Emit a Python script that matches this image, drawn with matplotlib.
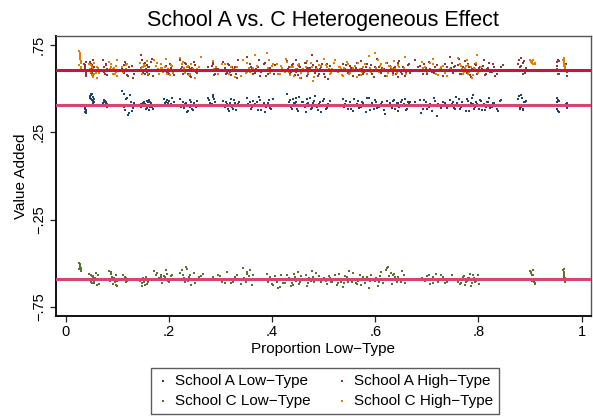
import matplotlib
matplotlib.use('Agg')
import matplotlib.pyplot as plt

plt.rcParams['font.family'] = ['Liberation Sans', 'DejaVu Sans']

# proportion low-type, school A observations
x_a = [0.036, 0.037, 0.038, 0.039, 0.040,
       0.047, 0.049, 0.051, 0.052, 0.054, 0.056,
       0.072, 0.075, 0.077, 0.079, 0.081,
       0.109, 0.113, 0.117, 0.121, 0.125, 0.129, 0.133,
       0.146, 0.149, 0.152, 0.155, 0.157, 0.159, 0.161, 0.163, 0.166, 0.169,
       0.190, 0.195, 0.200, 0.205, 0.210,
       0.222, 0.226, 0.230, 0.234, 0.238, 0.241, 0.244, 0.247, 0.250, 0.254,
       0.276, 0.280, 0.285, 0.290, 0.295,
       0.305, 0.309, 0.313, 0.317, 0.321, 0.325, 0.329, 0.333, 0.337,
       0.352, 0.357, 0.362, 0.367, 0.372, 0.377, 0.382, 0.387, 0.392, 0.397, 0.402, 0.406,
       0.429, 0.433, 0.437, 0.441, 0.445, 0.449, 0.453, 0.457, 0.461, 0.465, 0.469,
       0.473, 0.477, 0.481, 0.485, 0.489, 0.493, 0.497, 0.501, 0.505, 0.509, 0.512,
       0.537, 0.542, 0.547, 0.552, 0.557, 0.562, 0.567, 0.572, 0.577, 0.582, 0.587,
       0.592, 0.597, 0.602, 0.607, 0.612, 0.617, 0.623,
       0.629, 0.633, 0.637, 0.641, 0.645, 0.649, 0.653, 0.657, 0.661, 0.665, 0.668,
       0.677, 0.683, 0.689, 0.695, 0.701, 0.707, 0.713, 0.719, 0.725, 0.731, 0.739,
       0.745, 0.749, 0.753, 0.757, 0.761, 0.765, 0.769, 0.773, 0.777, 0.781, 0.785, 0.789, 0.793,
       0.797, 0.801, 0.805, 0.809, 0.813, 0.817, 0.821, 0.826, 0.831, 0.836, 0.841, 0.847,
       0.877, 0.880, 0.883, 0.886, 0.889, 0.892,
       0.952, 0.954, 0.955, 0.957, 0.970, 0.972,
       0.037, 0.038, 0.039, 0.040,
       0.048, 0.050, 0.053, 0.055, 0.050, 0.053,
       0.073, 0.076, 0.078, 0.080, 0.074,
       0.111, 0.115, 0.119, 0.123, 0.127, 0.131, 0.114,
       0.147, 0.150, 0.153, 0.156, 0.158, 0.160, 0.162, 0.164, 0.167, 0.154,
       0.192, 0.197, 0.202, 0.207, 0.199,
       0.224, 0.228, 0.232, 0.236, 0.239, 0.242, 0.245, 0.248, 0.252, 0.235,
       0.278, 0.283, 0.288, 0.292, 0.286,
       0.307, 0.311, 0.315, 0.319, 0.323, 0.327, 0.331, 0.335, 0.318,
       0.354, 0.359, 0.364, 0.369, 0.374, 0.379, 0.384, 0.389, 0.394, 0.399, 0.404, 0.371,
       0.431, 0.435, 0.439, 0.443, 0.447, 0.451, 0.455, 0.459, 0.463, 0.467, 0.471,
       0.475, 0.479, 0.483, 0.487, 0.491, 0.495, 0.499, 0.503, 0.507, 0.446, 0.468,
       0.539, 0.544, 0.549, 0.554, 0.559, 0.564, 0.569, 0.574, 0.579, 0.584, 0.589,
       0.594, 0.599, 0.604, 0.609, 0.614, 0.619, 0.566,
       0.631, 0.635, 0.639, 0.643, 0.647, 0.651, 0.655, 0.659, 0.663, 0.666, 0.644,
       0.680, 0.686, 0.692, 0.698, 0.704, 0.710, 0.716, 0.722, 0.728, 0.735, 0.700,
       0.747, 0.751, 0.755, 0.759, 0.763, 0.767, 0.771, 0.775, 0.779, 0.783, 0.787, 0.791, 0.795,
       0.799, 0.803, 0.807, 0.811, 0.815, 0.819, 0.823, 0.828, 0.833, 0.838, 0.844, 0.790,
       0.878, 0.881, 0.884, 0.887, 0.890, 0.882,
       0.953, 0.953, 0.956, 0.956, 0.971, 0.971]

# value added, school A low-type
y_a_low = [0.405, 0.392, 0.380, 0.370, 0.362,
           0.455, 0.440, 0.468, 0.432, 0.450, 0.425,
           0.418, 0.432, 0.402, 0.425, 0.410,
           0.485, 0.395, 0.440, 0.350, 0.462, 0.372, 0.418,
           0.412, 0.398, 0.425, 0.405, 0.388, 0.420, 0.432, 0.395, 0.415, 0.380,
           0.442, 0.420, 0.430, 0.412, 0.425,
           0.438, 0.402, 0.388, 0.415, 0.372, 0.395, 0.420, 0.378, 0.405, 0.430,
           0.445, 0.418, 0.460, 0.425, 0.405,
           0.430, 0.395, 0.410, 0.372, 0.440, 0.385, 0.415, 0.398, 0.422,
           0.445, 0.425, 0.392, 0.410, 0.378, 0.432, 0.400, 0.365, 0.418, 0.388, 0.440, 0.405,
           0.470, 0.422, 0.395, 0.438, 0.410, 0.380, 0.452, 0.402, 0.425, 0.368, 0.415,
           0.445, 0.390, 0.430, 0.405, 0.375, 0.420, 0.398, 0.440, 0.385, 0.412, 0.428,
           0.440, 0.410, 0.385, 0.425, 0.372, 0.402, 0.430, 0.392, 0.418, 0.365, 0.445,
           0.400, 0.380, 0.422, 0.395, 0.412, 0.375, 0.428,
           0.415, 0.390, 0.432, 0.405, 0.372, 0.420, 0.398, 0.440, 0.382, 0.410, 0.425,
           0.420, 0.398, 0.360, 0.432, 0.385, 0.412, 0.445, 0.340, 0.402, 0.425, 0.390,
           0.435, 0.412, 0.390, 0.450, 0.405, 0.380, 0.425, 0.398, 0.440, 0.372, 0.418, 0.460, 0.395,
           0.410, 0.385, 0.430, 0.402, 0.375, 0.420, 0.445, 0.392, 0.415, 0.382, 0.428, 0.400,
           0.440, 0.385, 0.460, 0.378, 0.420, 0.430,
           0.420, 0.372, 0.432, 0.400, 0.410, 0.390,
           0.388, 0.365, 0.398, 0.375,
           0.445, 0.462, 0.428, 0.438, 0.470, 0.418,
           0.405, 0.428, 0.415, 0.396, 0.420,
           0.402, 0.378, 0.448, 0.360, 0.425, 0.388, 0.470,
           0.395, 0.418, 0.402, 0.382, 0.428, 0.408, 0.375, 0.422, 0.392, 0.412,
           0.418, 0.436, 0.408, 0.445, 0.415,
           0.392, 0.425, 0.410, 0.365, 0.400, 0.432, 0.385, 0.418, 0.395, 0.408,
           0.432, 0.410, 0.440, 0.398, 0.452,
           0.405, 0.425, 0.385, 0.418, 0.395, 0.435, 0.378, 0.412, 0.402,
           0.412, 0.385, 0.428, 0.398, 0.450, 0.375, 0.418, 0.395, 0.435, 0.382, 0.408, 0.422,
           0.398, 0.432, 0.385, 0.415, 0.448, 0.372, 0.408, 0.425, 0.392, 0.438, 0.402,
           0.380, 0.418, 0.455, 0.395, 0.412, 0.365, 0.428, 0.405, 0.390, 0.420, 0.412,
           0.395, 0.428, 0.405, 0.380, 0.438, 0.412, 0.390, 0.425, 0.402, 0.448, 0.378,
           0.415, 0.432, 0.388, 0.408, 0.420, 0.355, 0.398,
           0.402, 0.428, 0.385, 0.418, 0.395, 0.435, 0.410, 0.378, 0.422, 0.400, 0.415,
           0.408, 0.435, 0.380, 0.420, 0.395, 0.372, 0.428, 0.410, 0.388, 0.415, 0.400,
           0.402, 0.425, 0.380, 0.415, 0.438, 0.392, 0.408, 0.372, 0.428, 0.398, 0.445, 0.385, 0.420,
           0.405, 0.432, 0.378, 0.412, 0.395, 0.425, 0.388, 0.418, 0.402, 0.370, 0.435, 0.410,
           0.455, 0.395, 0.448, 0.382, 0.425, 0.392,
           0.445, 0.382, 0.428, 0.365, 0.415, 0.398]

# value added, school A high-type
y_a_high = [0.640, 0.625, 0.600, 0.585, 0.570,
            0.650, 0.612, 0.595, 0.632, 0.580, 0.605,
            0.660, 0.620, 0.598, 0.640, 0.575,
            0.615, 0.590, 0.640, 0.570, 0.605, 0.628, 0.585,
            0.690, 0.662, 0.640, 0.610, 0.595, 0.625, 0.580, 0.605, 0.650, 0.570,
            0.600, 0.630, 0.585, 0.615, 0.575,
            0.662, 0.625, 0.598, 0.640, 0.580, 0.612, 0.565, 0.605, 0.635, 0.590,
            0.620, 0.600, 0.640, 0.585, 0.610,
            0.650, 0.615, 0.590, 0.632, 0.575, 0.605, 0.622, 0.560, 0.598,
            0.680, 0.640, 0.612, 0.590, 0.625, 0.570, 0.605, 0.648, 0.585, 0.618, 0.600, 0.632,
            0.655, 0.620, 0.595, 0.640, 0.575, 0.610, 0.630, 0.560, 0.602, 0.645, 0.585,
            0.618, 0.690, 0.598, 0.625, 0.570, 0.612, 0.638, 0.580, 0.605, 0.552, 0.628,
            0.642, 0.610, 0.590, 0.628, 0.570, 0.615, 0.600, 0.655, 0.582, 0.620, 0.598,
            0.635, 0.565, 0.608, 0.625, 0.588, 0.612, 0.645,
            0.630, 0.600, 0.615, 0.580, 0.645, 0.595, 0.620, 0.572, 0.608, 0.638, 0.590,
            0.660, 0.625, 0.598, 0.640, 0.580, 0.612, 0.590, 0.632, 0.605, 0.570, 0.620,
            0.680, 0.645, 0.620, 0.598, 0.632, 0.580, 0.610, 0.655, 0.590, 0.625, 0.568, 0.605, 0.640,
            0.585, 0.615, 0.600, 0.630, 0.575, 0.612, 0.648, 0.592, 0.622, 0.582, 0.608, 0.635,
            0.640, 0.598, 0.672, 0.585, 0.655, 0.615,
            0.650, 0.585, 0.665, 0.598, 0.640, 0.570,
            0.610, 0.632, 0.592, 0.650,
            0.598, 0.640, 0.572, 0.620, 0.588, 0.660,
            0.608, 0.585, 0.632, 0.612, 0.595,
            0.598, 0.650, 0.578, 0.620, 0.600, 0.562, 0.635,
            0.615, 0.588, 0.645, 0.600, 0.632, 0.575, 0.620, 0.598, 0.668, 0.585,
            0.622, 0.595, 0.640, 0.605, 0.588,
            0.610, 0.585, 0.645, 0.598, 0.625, 0.570, 0.618, 0.652, 0.592, 0.605,
            0.598, 0.628, 0.575, 0.615, 0.650,
            0.608, 0.580, 0.640, 0.595, 0.625, 0.612, 0.585, 0.660, 0.600,
            0.598, 0.625, 0.580, 0.612, 0.660, 0.592, 0.638, 0.572, 0.615, 0.602, 0.585, 0.628,
            0.612, 0.588, 0.635, 0.600, 0.662, 0.578, 0.620, 0.598, 0.645, 0.572, 0.615,
            0.605, 0.632, 0.590, 0.655, 0.582, 0.622, 0.608, 0.565, 0.640, 0.595, 0.618,
            0.605, 0.632, 0.585, 0.618, 0.598, 0.648, 0.575, 0.612, 0.592, 0.638, 0.602,
            0.580, 0.625, 0.668, 0.595, 0.615, 0.572, 0.608,
            0.612, 0.588, 0.625, 0.602, 0.655, 0.580, 0.618, 0.595, 0.635, 0.605, 0.565,
            0.602, 0.630, 0.585, 0.615, 0.650, 0.595, 0.622, 0.575, 0.610, 0.640, 0.598,
            0.615, 0.590, 0.628, 0.605, 0.668, 0.582, 0.620, 0.598, 0.642, 0.575, 0.612, 0.600, 0.635,
            0.588, 0.625, 0.610, 0.660, 0.580, 0.618, 0.595, 0.638, 0.572, 0.608, 0.622, 0.602,
            0.660, 0.625, 0.605, 0.645, 0.590, 0.630,
            0.628, 0.612, 0.580, 0.655, 0.608, 0.592]

# proportion low-type, school C observations
x_c = [0.027, 0.028, 0.028, 0.029, 0.029, 0.030,
       0.045, 0.048, 0.050, 0.052, 0.055, 0.058, 0.060, 0.062, 0.065,
       0.085, 0.088, 0.090, 0.092, 0.095, 0.098, 0.100,
       0.110, 0.115, 0.120,
       0.145, 0.148, 0.151, 0.154, 0.157, 0.160,
       0.172, 0.176, 0.180, 0.184, 0.188, 0.192, 0.196, 0.200, 0.204, 0.208,
       0.222, 0.226, 0.230, 0.234, 0.238, 0.242, 0.246, 0.250, 0.258, 0.266,
       0.285, 0.292, 0.300, 0.308, 0.316, 0.324, 0.332, 0.340, 0.346, 0.352, 0.358, 0.364, 0.370,
       0.390, 0.395, 0.400, 0.405, 0.410, 0.415, 0.420, 0.425, 0.430, 0.435, 0.440,
       0.445, 0.450, 0.455, 0.460, 0.465, 0.470, 0.475, 0.480, 0.485, 0.490, 0.495,
       0.500, 0.505, 0.510, 0.515, 0.520, 0.525, 0.530, 0.535, 0.540, 0.545,
       0.550, 0.555, 0.560, 0.565, 0.570, 0.575, 0.580, 0.585, 0.590, 0.595,
       0.600, 0.605, 0.610, 0.615, 0.620, 0.625, 0.630, 0.635, 0.640, 0.645, 0.650, 0.655, 0.660,
       0.690, 0.697, 0.704, 0.711, 0.718, 0.725, 0.732, 0.740, 0.748,
       0.760, 0.764, 0.768, 0.772, 0.776, 0.780, 0.784, 0.788, 0.792, 0.796, 0.800, 0.805,
       0.900, 0.902, 0.905, 0.908, 0.910,
       0.964, 0.965, 0.966, 0.966, 0.967, 0.968,
       0.028, 0.028, 0.029, 0.027, 0.030,
       0.046, 0.049, 0.051, 0.053, 0.056, 0.059, 0.061, 0.063, 0.054,
       0.086, 0.089, 0.091, 0.094, 0.097, 0.099, 0.087,
       0.112, 0.117, 0.118,
       0.146, 0.149, 0.152, 0.155, 0.158, 0.150,
       0.174, 0.178, 0.182, 0.186, 0.190, 0.194, 0.198, 0.202, 0.206, 0.185,
       0.224, 0.228, 0.232, 0.236, 0.240, 0.244, 0.248, 0.254, 0.262, 0.231,
       0.288, 0.296, 0.304, 0.312, 0.320, 0.328, 0.336, 0.343, 0.349, 0.355, 0.361, 0.367, 0.352,
       0.392, 0.397, 0.402, 0.407, 0.412, 0.417, 0.422, 0.427, 0.432, 0.437, 0.442,
       0.447, 0.452, 0.457, 0.462, 0.467, 0.472, 0.477, 0.482, 0.487, 0.492, 0.438,
       0.502, 0.507, 0.512, 0.517, 0.522, 0.527, 0.532, 0.537, 0.542, 0.547,
       0.552, 0.557, 0.562, 0.567, 0.572, 0.577, 0.582, 0.587, 0.592, 0.533,
       0.602, 0.607, 0.612, 0.617, 0.622, 0.627, 0.632, 0.637, 0.642, 0.647, 0.652, 0.657, 0.638,
       0.693, 0.700, 0.707, 0.714, 0.721, 0.728, 0.736, 0.744, 0.712,
       0.762, 0.766, 0.770, 0.774, 0.778, 0.782, 0.786, 0.790, 0.794, 0.798, 0.802, 0.779,
       0.901, 0.903, 0.906, 0.909, 0.904,
       0.965, 0.965, 0.966, 0.967, 0.967, 0.966]

# value added, school C low-type
y_c_low = [-0.500, -0.510, -0.520, -0.528, -0.536, -0.545,
           -0.560, -0.590, -0.605, -0.575, -0.612, -0.585, -0.598, -0.570, -0.620,
           -0.545, -0.560, -0.578, -0.595, -0.610, -0.625, -0.600,
           -0.590, -0.578, -0.600,
           -0.600, -0.615, -0.585, -0.625, -0.595, -0.610,
           -0.545, -0.570, -0.590, -0.565, -0.598, -0.580, -0.560, -0.605, -0.575, -0.588,
           -0.555, -0.540, -0.585, -0.520, -0.600, -0.570, -0.595, -0.615, -0.580, -0.560,
           -0.580, -0.598, -0.575, -0.612, -0.590, -0.605, -0.570, -0.620, -0.585, -0.550, -0.540, -0.565, -0.595,
           -0.560, -0.595, -0.620, -0.575, -0.605, -0.635, -0.588, -0.612, -0.570, -0.598, -0.625,
           -0.580, -0.550, -0.608, -0.590, -0.565, -0.615, -0.600, -0.578, -0.555, -0.592, -0.610,
           -0.585, -0.600, -0.572, -0.610, -0.590, -0.625, -0.560, -0.598, -0.615, -0.578,
           -0.545, -0.605, -0.588, -0.620, -0.568, -0.595, -0.612, -0.580, -0.602, -0.592,
           -0.600, -0.630, -0.575, -0.612, -0.540, -0.520, -0.555, -0.565, -0.590, -0.580, -0.605, -0.570, -0.595,
           -0.585, -0.600, -0.570, -0.612, -0.560, -0.595, -0.580, -0.605, -0.565,
           -0.605, -0.620, -0.590, -0.575, -0.610, -0.598, -0.560, -0.615, -0.585, -0.600, -0.570, -0.590,
           -0.545, -0.558, -0.570, -0.610, -0.620,
           -0.540, -0.552, -0.565, -0.578, -0.590, -0.605,
           -0.505, -0.515, -0.525, -0.533, -0.541,
           -0.598, -0.565, -0.615, -0.580, -0.605, -0.558, -0.625, -0.590, -0.572,
           -0.602, -0.552, -0.618, -0.585, -0.570, -0.630, -0.592,
           -0.568, -0.605, -0.585,
           -0.590, -0.628, -0.605, -0.580, -0.618, -0.598,
           -0.598, -0.558, -0.585, -0.612, -0.572, -0.538, -0.602, -0.590, -0.565, -0.580,
           -0.592, -0.565, -0.610, -0.535, -0.580, -0.625, -0.555, -0.598, -0.572, -0.605,
           -0.592, -0.565, -0.605, -0.548, -0.615, -0.580, -0.598, -0.530, -0.610, -0.572, -0.625, -0.588, -0.560,
           -0.605, -0.578, -0.625, -0.590, -0.642, -0.568, -0.612, -0.598, -0.582, -0.630, -0.560,
           -0.602, -0.618, -0.575, -0.595, -0.628, -0.585, -0.545, -0.608, -0.592, -0.572, -0.615,
           -0.598, -0.620, -0.582, -0.605, -0.565, -0.612, -0.592, -0.635, -0.575, -0.608,
           -0.588, -0.555, -0.615, -0.600, -0.625, -0.580, -0.595, -0.642, -0.570, -0.610,
           -0.585, -0.610, -0.548, -0.598, -0.530, -0.572, -0.620, -0.560, -0.605, -0.590, -0.545, -0.612, -0.578,
           -0.598, -0.575, -0.618, -0.588, -0.605, -0.568, -0.612, -0.592, -0.578,
           -0.592, -0.615, -0.578, -0.625, -0.600, -0.585, -0.630, -0.570, -0.608, -0.595, -0.618, -0.582,
           -0.552, -0.600, -0.540, -0.615, -0.565,
           -0.548, -0.560, -0.572, -0.585, -0.598, -0.535]

# value added, school C high-type
y_c_high = [0.712, 0.690, 0.668, 0.645, 0.620, 0.598,
            0.640, 0.612, 0.595, 0.625, 0.580, 0.605, 0.560, 0.618, 0.590,
            0.650, 0.625, 0.598, 0.612, 0.585, 0.630, 0.570,
            0.620, 0.600, 0.640,
            0.645, 0.620, 0.598, 0.630, 0.605, 0.585,
            0.660, 0.628, 0.612, 0.640, 0.595, 0.620, 0.580, 0.605, 0.635, 0.590,
            0.672, 0.640, 0.615, 0.598, 0.628, 0.585, 0.610, 0.560, 0.622, 0.600,
            0.655, 0.620, 0.600, 0.638, 0.585, 0.612, 0.625, 0.570, 0.605, 0.645, 0.592, 0.618, 0.630,
            0.700, 0.660, 0.628, 0.605, 0.640, 0.585, 0.615, 0.595, 0.650, 0.575, 0.620,
            0.600, 0.635, 0.560, 0.610, 0.625, 0.590, 0.645, 0.540, 0.612, 0.598, 0.630,
            0.668, 0.632, 0.610, 0.590, 0.645, 0.600, 0.622, 0.575, 0.615, 0.652,
            0.585, 0.605, 0.628, 0.565, 0.612, 0.595, 0.640, 0.580, 0.618, 0.602,
            0.705, 0.660, 0.630, 0.610, 0.645, 0.590, 0.620, 0.575, 0.605, 0.635, 0.598, 0.615, 0.585,
            0.650, 0.622, 0.600, 0.638, 0.585, 0.612, 0.628, 0.570, 0.605,
            0.675, 0.640, 0.612, 0.595, 0.628, 0.580, 0.605, 0.560, 0.618, 0.645, 0.590, 0.622,
            0.660, 0.650, 0.642, 0.638, 0.648,
            0.665, 0.652, 0.640, 0.630, 0.620, 0.612,
            0.705, 0.680, 0.655, 0.632, 0.610,
            0.598, 0.632, 0.575, 0.610, 0.648, 0.588, 0.620, 0.600, 0.568,
            0.605, 0.640, 0.580, 0.618, 0.595, 0.662, 0.610,
            0.595, 0.632, 0.610,
            0.612, 0.580, 0.635, 0.598, 0.655, 0.620,
            0.602, 0.645, 0.585, 0.618, 0.598, 0.670, 0.610, 0.575, 0.628, 0.615,
            0.605, 0.652, 0.588, 0.620, 0.575, 0.638, 0.598, 0.612, 0.682, 0.590,
            0.612, 0.580, 0.640, 0.598, 0.625, 0.565, 0.608, 0.660, 0.588, 0.618, 0.602, 0.690, 0.595,
            0.615, 0.590, 0.642, 0.602, 0.580, 0.628, 0.608, 0.668, 0.595, 0.620, 0.572,
            0.612, 0.638, 0.588, 0.605, 0.655, 0.598, 0.622, 0.565, 0.610, 0.632, 0.600,
            0.598, 0.625, 0.580, 0.612, 0.660, 0.592, 0.620, 0.570, 0.608, 0.638,
            0.588, 0.615, 0.600, 0.648, 0.575, 0.622, 0.605, 0.685, 0.595, 0.612,
            0.618, 0.595, 0.640, 0.602, 0.570, 0.628, 0.610, 0.655, 0.588, 0.622, 0.600, 0.680, 0.612,
            0.615, 0.595, 0.645, 0.605, 0.575, 0.625, 0.590, 0.610, 0.668,
            0.602, 0.628, 0.585, 0.615, 0.660, 0.595, 0.622, 0.575, 0.610, 0.690, 0.598, 0.635,
            0.655, 0.645, 0.662, 0.640, 0.652,
            0.675, 0.660, 0.646, 0.635, 0.625, 0.605]

# mean effects drawn as horizontal lines
mean_high = 0.607
mean_a_low = 0.408
mean_c_low = -0.588

labels = ['School A Low\u2212Type', 'School A High\u2212Type',
          'School C Low\u2212Type', 'School C High\u2212Type']
colors = ['#1A476F', '#90353B', '#55752F', '#E37E00']

fig = plt.figure(figsize=(5.93, 4.17), dpi=100)
ax = fig.add_axes([0.094, 0.243, 0.9026, 0.6707])

series = [(x_a, y_a_low), (x_a, y_a_high), (x_c, y_c_low), (x_c, y_c_high)]
handles = []
for (xs, ys), c, lab in zip(series, colors, labels):
    h = ax.scatter(xs, ys, s=2.2, marker='s', color=c, linewidths=0, label=lab, zorder=2)
    handles.append(h)

ax.axhline(mean_high, color='#C8143F', lw=2.2, zorder=3)
ax.axhline(mean_a_low, color='#D6466E', lw=2.2, zorder=3)
ax.axhline(mean_c_low, color='#D6466E', lw=2.2, zorder=3)

ax.set_xlim(-0.019, 1.018)
ax.set_ylim(-0.8, 0.8)
ax.set_xticks([0, 0.2, 0.4, 0.6, 0.8, 1])
ax.set_xticklabels(['0', '.2', '.4', '.6', '.8', '1'], fontsize=10.5)
ax.set_yticks([0.75, 0.25, -0.25, -0.75])
ax.set_yticklabels(['.75', '.25', '\u2212.25', '\u2212.75'], fontsize=10.5,
                   rotation=90, va='center')
ax.tick_params(direction='out', length=4, width=0.9, color='#222222', pad=3)

for side in ['left', 'bottom']:
    ax.spines[side].set_color('#111111')
    ax.spines[side].set_linewidth(1.4)
for side in ['top', 'right']:
    ax.spines[side].set_color('#555555')
    ax.spines[side].set_linewidth(1.0)

ax.set_xlabel('Proportion Low\u2212Type', fontsize=11, labelpad=2)
ax.set_ylabel('Value Added', fontsize=11, labelpad=3)
ax.set_title('School A vs. C Heterogeneous Effect', fontsize=15.5, pad=7)

order = [0, 2, 1, 3]
leg = fig.legend([handles[i] for i in order], [labels[i] for i in order],
                 loc='upper center', bbox_to_anchor=(0.548, 0.118),
                 bbox_transform=fig.transFigure, ncol=2, fontsize=11,
                 frameon=True, fancybox=False, edgecolor='#333333',
                 markerscale=1.0, handletextpad=0.4, columnspacing=1.6,
                 handlelength=0.8, borderpad=0.4, labelspacing=0.4,
                 borderaxespad=0)
leg.get_frame().set_linewidth(1.0)

fig.savefig('out.png', dpi=100)
